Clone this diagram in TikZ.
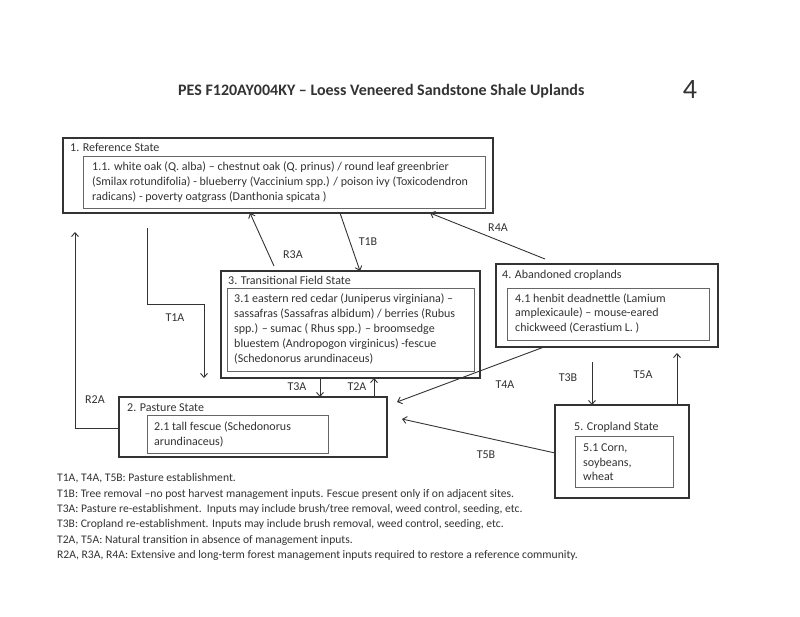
\documentclass[tikz,border=0pt]{standalone}
\usepackage{fontspec}
\setmainfont{Carlito}
\usetikzlibrary{arrows.meta}
\definecolor{ink}{HTML}{333333}
\newcommand\myst{\rule{0pt}{10.5pt}}
\begin{document}
\begin{tikzpicture}[x=1pt,y=-1pt,
  outerbox/.style={draw=ink, line width=1.6pt, inner sep=0pt, outer sep=0pt, anchor=north west},
  innerbox/.style={draw=black!60, line width=1pt, inner sep=0pt, outer sep=0pt, anchor=north west},
  txt/.style={anchor=north west, inner sep=0pt, align=left, text=ink, font=\fontsize{12}{15}\selectfont},
  txtb/.style={txt, font=\fontsize{12}{14.3}\selectfont},
  lab/.style={inner sep=0pt, text=ink, font=\fontsize{12}{13}\selectfont},
  arr/.style={draw=ink, line width=0.9pt, -{Straight Barb[length=4pt,width=7pt]}}]
\useasboundingbox[fill=white] (0,0) rectangle (800,617);

% title
\node[anchor=base west, inner sep=0pt, text=ink, font=\bfseries\fontsize{16}{18}\selectfont] (title) at (178,96) {PES F120AY004KY – Loess Veneered Sandstone Shale Uplands};
\node[inner sep=0pt, text=ink, font=\fontsize{28}{30}\selectfont] (pg) at (690,90) {4};

% 1. Reference State
\node[outerbox, minimum width=430pt, minimum height=75pt] (ref) at (63,138) {};
\node[txt] (reft) at (70,141) {\myst 1. Reference State};
\node[innerbox, minimum width=402pt, minimum height=52pt] (refin) at (83,157) {};
\node[txt] (refx) at (92,160) {\myst 1.1. white oak (Q. alba) – chestnut oak (Q. prinus) / round leaf greenbrier\\(Smilax rotundifolia) - blueberry (Vaccinium spp.) / poison ivy (Toxicodendron\\radicans) - poverty oatgrass (Danthonia spicata )};

% 3. Transitional Field State
\node[outerbox, minimum width=259pt, minimum height=107pt] (trans) at (221,271) {};
\node[txt] (transt) at (228,274) {\myst 3. Transitional Field State};
\node[innerbox, minimum width=247pt, minimum height=82pt] (transin) at (227,289) {};
\node[txt] (transx) at (234,292) {\myst 3.1 eastern red cedar (Juniperus virginiana) –\\sassafras (Sassafras albidum) / berries (Rubus\\spp.) – sumac ( Rhus spp.) – broomsedge\\bluestem (Andropogon virginicus) -fescue\\(Schedonorus arundinaceus)};

% 4. Abandoned croplands
\node[outerbox, minimum width=222pt, minimum height=83pt] (aband) at (496,264) {};
\node[txt] (abandt) at (502,268) {\myst 4. Abandoned croplands};
\node[innerbox, minimum width=202pt, minimum height=52pt] (abandin) at (507,289) {};
\node[txtb] (abandx) at (515,292) {\myst 4.1 henbit deadnettle (Lamium\\amplexicaule) – mouse-eared\\chickweed (Cerastium L. )};

% 2. Pasture State
\node[outerbox, minimum width=268pt, minimum height=60pt] (past) at (119,397) {};
\node[txt] (pastt) at (127,401) {\myst 2. Pasture State};
\node[innerbox, minimum width=181pt, minimum height=38pt] (pastin) at (147,415) {};
\node[txtb] (pastx) at (154,420) {\myst 2.1 tall fescue (Schedonorus\\arundinaceus)};

% 5. Cropland State
\node[outerbox, minimum width=134pt, minimum height=93pt] (crop) at (555,405) {};
\node[txt] (cropt) at (574,420) {\myst 5. Cropland State};
\node[innerbox, minimum width=98pt, minimum height=51pt] (cropin) at (575,436) {};
\node[txtb] (cropx) at (583,441) {\myst 5.1 Corn,\\soybeans,\\wheat};

% legend
\node[txt, font=\fontsize{11.6}{15.4}\selectfont] (legend) at (57,471) {\myst T1A, T4A, T5B: Pasture establishment.\\
T1B: Tree removal –no post harvest management inputs. Fescue present only if on adjacent sites.\\
T3A: Pasture re-establishment.\ \ Inputs may include brush/tree removal, weed control, seeding, etc.\\
T3B: Cropland re-establishment. Inputs may include brush removal, weed control, seeding, etc.\\
T2A, T5A: Natural transition in absence of management inputs.\\
R2A, R3A, R4A: Extensive and long-term forest management inputs required to restore a reference community.};

% free ends
\coordinate (r3s) at (274,266);
\coordinate (r4s) at (545,259);
\coordinate (t1s) at (147,228);
\coordinate (t1e) at (204,378);
\coordinate (r2e) at (75,232);
\coordinate (t4e) at (397,402);
\coordinate (t3bs) at (592,362);
\coordinate (t5e) at (677,353);
\coordinate (t5be) at (402,419);

% connectors
\draw[arr] (r3s) -- (ref.south -| 250,0);
\draw[arr] (ref.south -| 340,0) -- (trans.north -| 360,0);
\draw[arr] (r4s) -- (ref.south -| 430,0);
\draw[arr] (t1s) |- (204,304) -- (t1e);
\draw[arr] (past.west |- 0,428) -| (r2e);
\draw[arr] (trans.south -| 320,0) -- (past.north -| 320,0);
\draw[arr] (past.north -| 374,0) -- (trans.south -| 374,0);
\draw[arr] (aband.south -| 544,0) -- (t4e);
\draw[arr] (t3bs) -- (crop.north -| 592,0);
\draw[arr] (crop.north -| 677,0) -- (t5e);
\draw[arr] (crop.west |- 0,453) -- (t5be);

% labels
\node[lab] (lR3A) at (293,255) {R3A};
\node[lab] (lT1B) at (368,242) {T1B};
\node[lab] (lR4A) at (498,228) {R4A};
\node[lab] (lT1A) at (175,318) {T1A};
\node[lab] (lR2A) at (95,400) {R2A};
\node[lab] (lT3A) at (297,387) {T3A};
\node[lab] (lT2A) at (357,387) {T2A};
\node[lab] (lT4A) at (505,385) {T4A};
\node[lab] (lT3B) at (568,378) {T3B};
\node[lab] (lT5A) at (643,375) {T5A};
\node[lab] (lT5B) at (486,455) {T5B};
\end{tikzpicture}
\end{document}
